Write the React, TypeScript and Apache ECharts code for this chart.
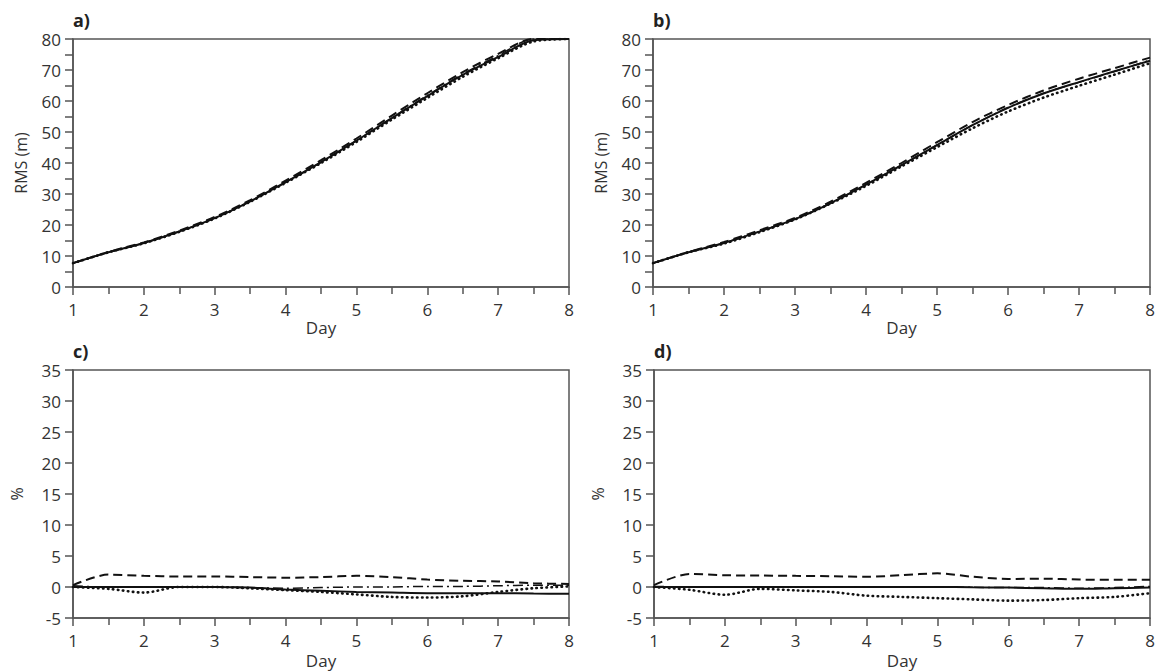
import React, { useEffect, useRef } from "react";
import * as echarts from "echarts";

const days = [1, 1.5, 2, 2.5, 3, 3.5, 4, 4.5, 5, 5.5, 6, 6.5, 7, 7.5, 8];

// Panel a: RMS (m)
const aSolid = [7.7, 11.2, 14.2, 17.9, 22.2, 27.6, 33.8, 40.3, 47.2, 54.5, 61.6, 68.4, 74.2, 79.6, 80];
const aDashed = [7.7, 11.3, 14.4, 18.2, 22.6, 28.0, 34.3, 40.9, 47.9, 55.3, 62.5, 69.3, 75.2, 80, 80];
const aDotted = [7.7, 11.2, 14.1, 17.8, 22.1, 27.5, 33.6, 40.0, 46.8, 54.0, 61.0, 67.8, 73.8, 79.2, 80];
const aDashDot = [7.7, 11.2, 14.2, 17.9, 22.2, 27.6, 33.7, 40.2, 47.2, 54.6, 61.8, 68.7, 74.6, 80, 80];

// Panel b: RMS (m)
const bSolid = [7.7, 11.2, 14.2, 17.9, 21.9, 27.0, 33.0, 39.3, 45.8, 52.2, 57.8, 62.4, 66.1, 69.6, 73.0];
const bDashed = [7.7, 11.3, 14.5, 18.3, 22.3, 27.5, 33.6, 40.0, 46.7, 53.2, 58.7, 63.4, 67.2, 70.6, 74.0];
const bDotted = [7.7, 11.2, 14.0, 17.7, 21.8, 26.9, 32.6, 38.9, 45.1, 51.2, 56.6, 61.1, 64.9, 68.5, 72.2];
const bDashDot = [7.7, 11.2, 14.2, 17.9, 21.9, 27.0, 33.0, 39.3, 45.8, 52.2, 57.9, 62.5, 66.0, 69.5, 73.2];

// Panel c: %
const cSolid = [0, 0, 0, 0, 0, -0.1, -0.4, -0.6, -0.8, -0.9, -1.0, -1.0, -1.0, -1.05, -1.1];
const cDashed = [0.3, 2.0, 1.8, 1.7, 1.7, 1.6, 1.5, 1.6, 1.8, 1.6, 1.2, 1.0, 0.9, 0.6, 0.5];
const cDotted = [0, -0.3, -0.9, 0, 0, -0.2, -0.5, -0.8, -1.2, -1.6, -1.7, -1.5, -0.8, -0.2, 0.1];
const cDashDot = [0.2, 0, 0, 0, 0, -0.1, -0.2, -0.1, 0, 0, 0.1, 0.1, 0.2, 0.3, 0.3];

// Panel d: %
const dSolid = [0, 0, 0, 0, 0, 0, 0, 0, 0, -0.05, -0.1, -0.2, -0.3, -0.2, -0.1];
const dDashed = [0.3, 2.1, 1.9, 1.85, 1.8, 1.75, 1.65, 1.9, 2.2, 1.65, 1.3, 1.35, 1.2, 1.15, 1.15];
const dDotted = [0, -0.45, -1.25, -0.3, -0.55, -0.8, -1.4, -1.6, -1.8, -2.0, -2.2, -2.1, -1.8, -1.6, -1.0];
const dDashDot = [0.1, 0, 0, 0, 0, 0, -0.05, -0.05, -0.05, -0.05, -0.1, -0.1, -0.2, -0.1, 0.1];

const panelLabels = ["a)", "b)", "c)", "d)"];
const topYName = "RMS (m)";
const bottomYName = "%";
const xName = "Day";

const FONT = "'Open Sans', 'Noto Sans', sans-serif";
const AXIS_COLOR = "#555";
const TEXT_COLOR = "#333";
const LINE_COLOR = "#111";

const styles: Record<string, any> = {
  solid: { type: "solid", width: 2 },
  dashed: { type: [9, 5], width: 2 },
  dotted: { type: [0.5, 4.5], width: 2.6, cap: "round" },
  dashdot: { type: [10, 4, 2, 4], width: 1.5 },
};

export default function App() {
  const ref = useRef<HTMLDivElement>(null);
  useEffect(() => {
    document.body.style.margin = "0";
    if (!ref.current) return;
    const chart = echarts.init(ref.current, undefined, { renderer: "svg" });

    const grids = [
      { left: 73, top: 39, width: 496, height: 248 },
      { left: 653, top: 39, width: 497, height: 248 },
      { left: 73, top: 370, width: 496, height: 248 },
      { left: 654, top: 370, width: 496, height: 248 },
    ];

    const panels = [
      { s: aSolid, d: aDashed, o: aDotted, dd: aDashDot },
      { s: bSolid, d: bDashed, o: bDotted, dd: bDashDot },
      { s: cSolid, d: cDashed, o: cDotted, dd: cDashDot },
      { s: dSolid, d: dDashed, o: dDotted, dd: dDashDot },
    ];

    const xAxes = grids.map((_, i) => ({
      type: "value",
      gridIndex: i,
      min: 1,
      max: 8,
      interval: 1,
      name: xName,
      nameLocation: "middle",
      nameGap: i < 2 ? 32 : 34,
      nameTextStyle: { fontSize: 17, color: TEXT_COLOR, fontFamily: FONT },
      axisLine: { show: true, onZero: false, lineStyle: { color: AXIS_COLOR, width: 1.5 } },
      axisTick: { show: true, length: 8, lineStyle: { color: AXIS_COLOR, width: 1.5 } },
      minorTick: { show: true, splitNumber: 2, length: 7, lineStyle: { color: AXIS_COLOR, width: 1.5 } },
      axisLabel: { fontSize: 17, color: TEXT_COLOR, fontFamily: FONT, margin: 14 },
      splitLine: { show: false },
    }));

    const yAxes = grids.map((_, i) => {
      const top = i < 2;
      return {
        type: "value",
        gridIndex: i,
        min: top ? 0 : -5,
        max: top ? 80 : 35,
        interval: top ? 10 : 5,
        name: top ? topYName : bottomYName,
        nameLocation: "middle",
        nameGap: top ? 44 : 48,
        nameTextStyle: { fontSize: 16, color: TEXT_COLOR, fontFamily: FONT },
        axisLine: { show: true, onZero: false, lineStyle: { color: AXIS_COLOR, width: 1.5 } },
        axisTick: { show: true, length: 8, lineStyle: { color: AXIS_COLOR, width: 1.5 } },
        minorTick: { show: top, splitNumber: 2, length: 8, lineStyle: { color: AXIS_COLOR, width: 1.5 } },
        axisLabel: { fontSize: 17, color: TEXT_COLOR, fontFamily: FONT, margin: 12 },
        splitLine: { show: false },
      };
    });

    const series: any[] = [];
    panels.forEach((p, i) => {
      const defs: [number[], string][] = [
        [p.s, "solid"],
        [p.d, "dashed"],
        [p.o, "dotted"],
        [p.dd, "dashdot"],
      ];
      defs.forEach(([vals, st]) => {
        series.push({
          type: "line",
          xAxisIndex: i,
          yAxisIndex: i,
          data: days.map((d, k) => [d, vals[k]]),
          smooth: 0.3,
          showSymbol: false,
          symbol: "none",
          clip: true,
          lineStyle: { color: LINE_COLOR, ...styles[st] },
        });
      });
    });

    const graphic = grids.map((g, i) => ({
      type: "text",
      left: g.left,
      top: g.top - 28,
      style: {
        text: panelLabels[i],
        font: `bold 18px ${FONT}`,
        fill: "#222",
      },
    }));

    chart.setOption({
      animation: false,
      backgroundColor: "#fff",
      grid: grids.map((g) => ({
        ...g,
        show: true,
        borderColor: AXIS_COLOR,
        borderWidth: 1.5,
        backgroundColor: "transparent",
      })),
      xAxis: xAxes,
      yAxis: yAxes,
      series,
      graphic,
    });

    return () => chart.dispose();
  }, []);

  return <div ref={ref} style={{ width: 1163, height: 672 }} />;
}
